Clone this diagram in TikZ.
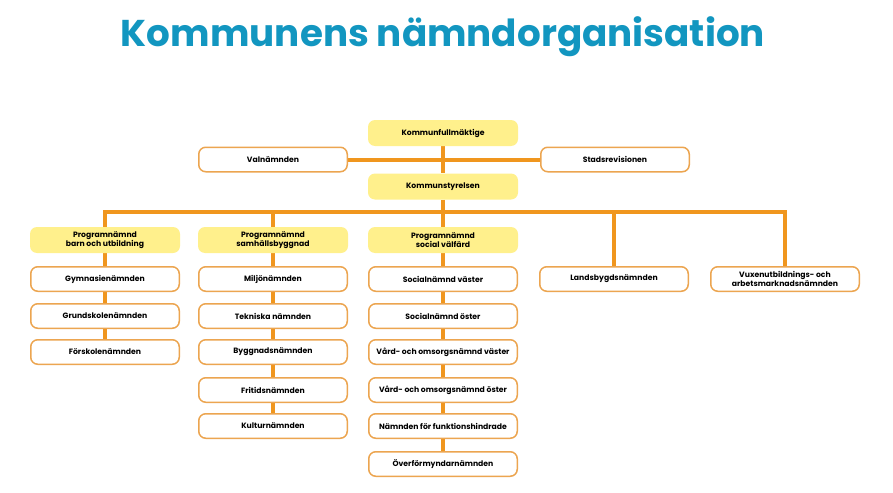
\documentclass[tikz,border=0pt]{standalone}
\usepackage{fontspec}
\setmainfont{Poppins}
\usetikzlibrary{positioning,backgrounds}
\definecolor{kommunTeal}{RGB}{18,150,192}
\definecolor{kommunOrange}{RGB}{240,150,30}
\definecolor{kommunEdge}{RGB}{236,165,80}
\definecolor{kommunYellow}{RGB}{255,240,140}

\tikzset{
  nbox/.style={rounded corners=7pt,minimum width=150pt,minimum height=26pt,
    inner sep=1pt,align=center,font=\fontsize{7.7}{8.7}\selectfont\bfseries},
  pbox/.style={nbox,fill=kommunYellow},
  wbox/.style={nbox,draw=kommunEdge,line width=1.5pt,fill=white,
    minimum width=148.5pt,minimum height=24.5pt},
  link/.style={kommunOrange,line width=4pt}
}

\begin{document}
\begin{tikzpicture}[x=1pt,y=-1pt]
  \useasboundingbox (0,0) rectangle (893,492);
  % title
  \node[anchor=base,text=kommunTeal,font=\fontsize{37.3}{40}\selectfont\bfseries]
    (title) at (443,47) {Kommunens nämndorganisation};
  % top level
  \node[pbox] (kf) at (443,133) {Kommunfullmäktige};
  \node[wbox] (val) at (273,159.5) {Valnämnden};
  \node[wbox] (sr) at (615,159.5) {Stadsrevisionen};
  \node[pbox] (ks) at (443,186.5) {Kommunstyrelsen};
  % barn och utbildning
  \node[pbox] (pn1) at (105,240) {Programnämnd\\barn och utbildning};
  \node[wbox] (gym) at (105,279) {Gymnasienämnden};
  \node[wbox] (grund) at (105,316) {Grundskolenämnden};
  \node[wbox] (forsk) at (105,352) {Förskolenämnden};
  % samhällsbyggnad
  \node[pbox] (pn2) at (273,240) {Programnämnd\\samhällsbyggnad};
  \node[wbox] (milj) at (273,279) {Miljönämnden};
  \node[wbox] (tekn) at (273,316) {Tekniska nämnden};
  \node[wbox] (bygg) at (273,352) {Byggnadsnämnden};
  \node[wbox] (frit) at (273,390) {Fritidsnämnden};
  \node[wbox] (kult) at (273,426) {Kulturnämnden};
  % social välfärd
  \node[pbox] (pn3) at (443,240) {Programnämnd\\social välfärd};
  \node[wbox] (socv) at (443,279) {Socialnämnd väster};
  \node[wbox] (soco) at (443,316) {Socialnämnd öster};
  \node[wbox] (vov) at (443,352) {Vård- och omsorgsnämnd väster};
  \node[wbox] (voo) at (443,390) {Vård- och omsorgsnämnd öster};
  \node[wbox] (funk) at (443,426) {Nämnden för funktionshindrade};
  \node[wbox] (overf) at (443,464) {Överförmyndarnämnden};
  % fristående
  \node[wbox] (lands) at (614,279) {Landsbygdsnämnden};
  \node[wbox] (vux) at (785,279) {Vuxenutbildnings- och\\arbetsmarknadsnämnden};

  \coordinate (barL) at (105,212);
  \coordinate (barR) at (785,212);
  \begin{scope}[on background layer]
    \fill[white] (0,0) rectangle (893,492);
    \draw[link] (kf) -- (ks);
    \draw[link] (val) -- (sr);
    \draw[link] (pn1.center) -- (barL) -- (barR) -- (vux.center);
    \draw[link] (ks) -- (pn3);
    \draw[link] (pn2) -- (pn2 |- barL);
    \draw[link] (lands) -- (lands |- barL);
    \draw[link] (pn1) -- (gym) -- (grund) -- (forsk);
    \draw[link] (pn2) -- (milj) -- (tekn) -- (bygg) -- (frit) -- (kult);
    \draw[link] (pn3) -- (socv) -- (soco) -- (vov) -- (voo) -- (funk) -- (overf);
  \end{scope}
\end{tikzpicture}
\end{document}
